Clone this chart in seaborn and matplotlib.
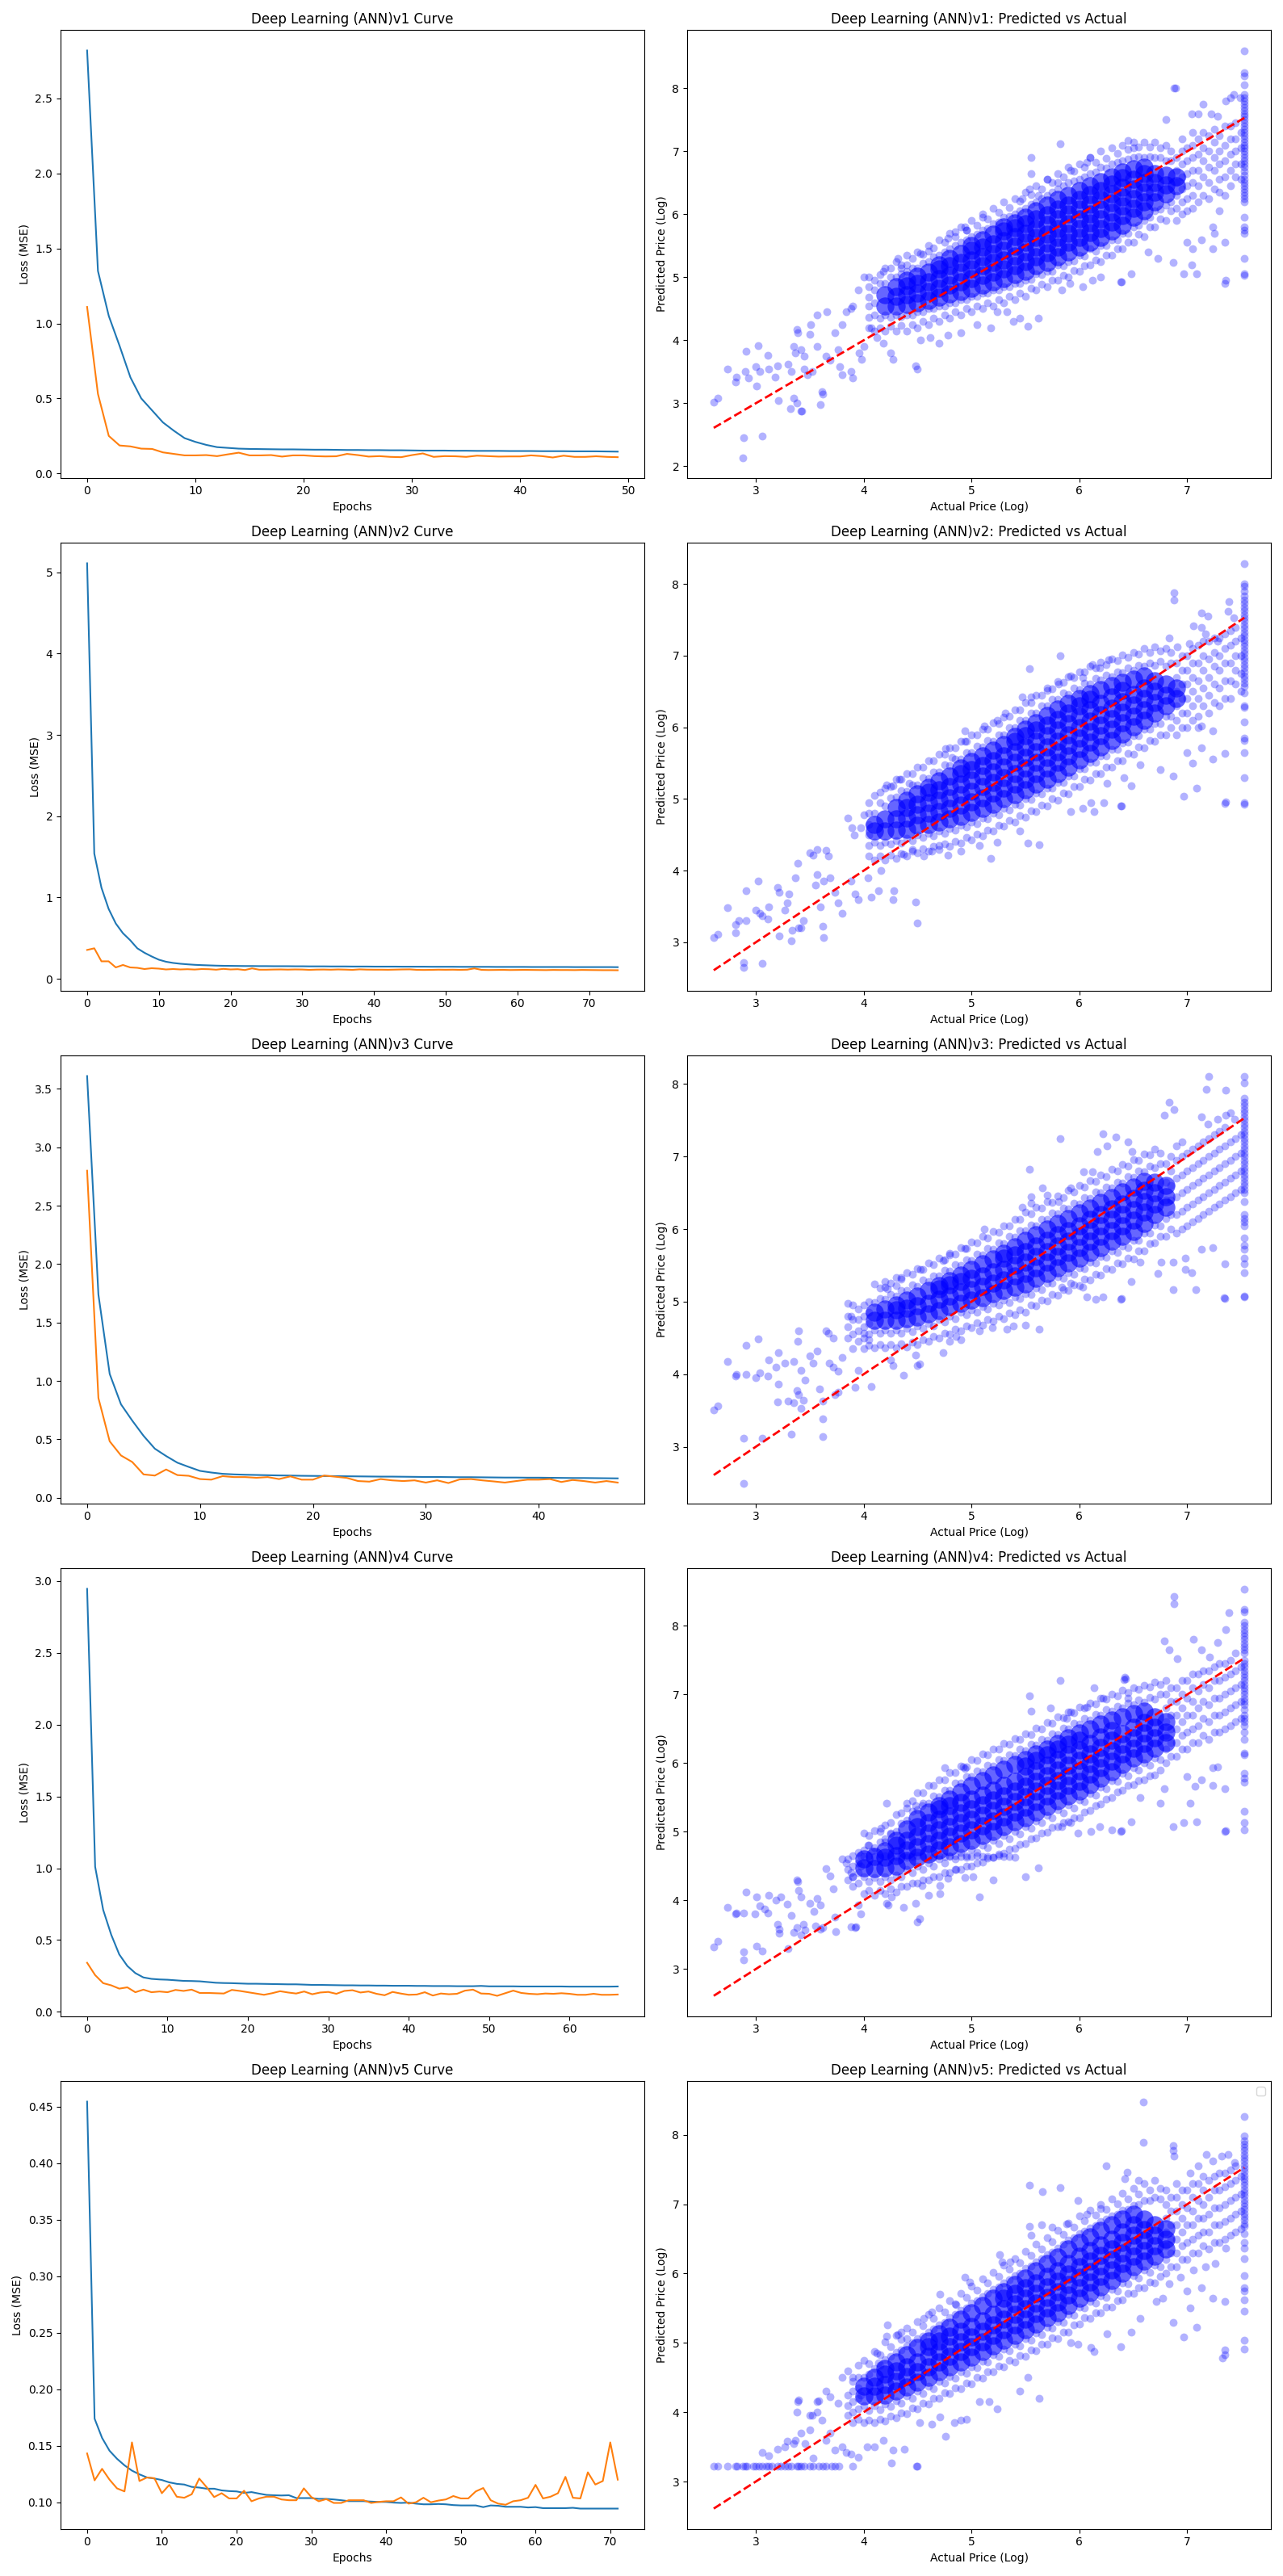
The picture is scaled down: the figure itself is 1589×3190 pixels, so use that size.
import numpy as np
import matplotlib
matplotlib.use("Agg")
import matplotlib.pyplot as plt
import seaborn as sns

# ---------------- loss curves (train = blue, validation = orange) ----------------
v1_train = [2.82, 1.35, 1.05, 0.85, 0.64, 0.50, 0.42, 0.34, 0.285, 0.235, 0.21, 0.19, 0.175, 0.17, 0.165, 0.163, 0.162, 0.161, 0.160, 0.160,
            0.159, 0.158, 0.158, 0.157, 0.156, 0.156, 0.155, 0.155, 0.154, 0.154, 0.153, 0.152, 0.152, 0.152, 0.151, 0.151, 0.150, 0.150, 0.150, 0.149,
            0.149, 0.149, 0.148, 0.148, 0.148, 0.147, 0.147, 0.147, 0.146, 0.145]
v1_val = [1.11, 0.53, 0.25, 0.186, 0.18, 0.165, 0.163, 0.14, 0.13, 0.12, 0.12, 0.122, 0.115, 0.127, 0.138, 0.12, 0.12, 0.122, 0.112, 0.12,
          0.12, 0.115, 0.113, 0.114, 0.13, 0.122, 0.112, 0.115, 0.11, 0.108, 0.122, 0.133, 0.11, 0.115, 0.114, 0.11, 0.118, 0.115, 0.112, 0.113,
          0.113, 0.12, 0.115, 0.106, 0.118, 0.11, 0.11, 0.114, 0.11, 0.108]

v2_train = [5.11, 1.54, 1.12, 0.86, 0.68, 0.56, 0.475, 0.375, 0.32, 0.275, 0.235, 0.21, 0.195, 0.185, 0.178, 0.172, 0.168, 0.165, 0.162, 0.16,
            0.159, 0.158, 0.157, 0.157, 0.156, 0.156, 0.155, 0.155, 0.155, 0.154, 0.154, 0.153, 0.153, 0.153, 0.152, 0.152, 0.152, 0.151, 0.151, 0.151,
            0.150, 0.150, 0.150, 0.150, 0.149, 0.149, 0.149, 0.149, 0.148, 0.148, 0.148, 0.148, 0.147, 0.147, 0.147, 0.147, 0.147, 0.146, 0.146, 0.146,
            0.146, 0.146, 0.145, 0.145, 0.145, 0.145, 0.145, 0.145, 0.144, 0.144, 0.144, 0.144, 0.144, 0.144, 0.143]
v2_val = [0.355, 0.375, 0.215, 0.215, 0.14, 0.17, 0.14, 0.135, 0.12, 0.13, 0.125, 0.115, 0.12, 0.115, 0.118, 0.114, 0.12, 0.118, 0.112, 0.122,
          0.115, 0.118, 0.108, 0.128, 0.112, 0.112, 0.114, 0.115, 0.113, 0.115, 0.114, 0.11, 0.113, 0.114, 0.112, 0.115, 0.113, 0.11, 0.116, 0.113,
          0.112, 0.112, 0.111, 0.113, 0.115, 0.116, 0.11, 0.109, 0.11, 0.112, 0.111, 0.112, 0.11, 0.112, 0.128, 0.11, 0.108, 0.109, 0.11, 0.108,
          0.109, 0.11, 0.109, 0.108, 0.107, 0.109, 0.108, 0.108, 0.107, 0.109, 0.108, 0.107, 0.106, 0.106, 0.105]

v3_train = [3.61, 1.74, 1.06, 0.80, 0.66, 0.53, 0.42, 0.357, 0.30, 0.264, 0.23, 0.216, 0.205, 0.20, 0.197, 0.195, 0.193, 0.191, 0.19, 0.188,
            0.187, 0.186, 0.185, 0.184, 0.183, 0.182, 0.181, 0.181, 0.18, 0.179, 0.178, 0.178, 0.177, 0.176, 0.176, 0.175, 0.174, 0.173, 0.173, 0.172,
            0.172, 0.171, 0.170, 0.169, 0.169, 0.168, 0.167, 0.166]
v3_val = [2.80, 0.854, 0.483, 0.362, 0.306, 0.20, 0.19, 0.242, 0.194, 0.188, 0.16, 0.155, 0.185, 0.177, 0.177, 0.171, 0.177, 0.16, 0.183, 0.155,
          0.155, 0.19, 0.18, 0.17, 0.143, 0.138, 0.16, 0.149, 0.143, 0.149, 0.13, 0.149, 0.126, 0.157, 0.16, 0.149, 0.14, 0.13, 0.143, 0.155,
          0.155, 0.16, 0.135, 0.152, 0.143, 0.13, 0.143, 0.13]

v4_train = [2.945, 1.01, 0.71, 0.537, 0.40, 0.32, 0.27, 0.24, 0.23, 0.226, 0.224, 0.22, 0.216, 0.215, 0.213, 0.208, 0.203, 0.201, 0.2, 0.198,
            0.196, 0.196, 0.195, 0.194, 0.193, 0.192, 0.192, 0.19, 0.188, 0.188, 0.187, 0.186, 0.185, 0.185, 0.184, 0.184, 0.183, 0.183, 0.182, 0.182,
            0.182, 0.181, 0.181, 0.18, 0.18, 0.18, 0.179, 0.179, 0.179, 0.181, 0.178, 0.178, 0.178, 0.178, 0.177, 0.177, 0.177, 0.177, 0.177, 0.177,
            0.176, 0.176, 0.176, 0.176, 0.176, 0.176, 0.177]
v4_val = [0.342, 0.256, 0.2, 0.185, 0.162, 0.171, 0.137, 0.155, 0.137, 0.142, 0.137, 0.153, 0.146, 0.155, 0.132, 0.132, 0.13, 0.128, 0.153, 0.146,
          0.137, 0.128, 0.119, 0.13, 0.144, 0.135, 0.128, 0.142, 0.123, 0.135, 0.139, 0.126, 0.146, 0.151, 0.135, 0.142, 0.126, 0.116, 0.139, 0.128,
          0.119, 0.121, 0.137, 0.114, 0.128, 0.123, 0.126, 0.148, 0.155, 0.128, 0.126, 0.112, 0.13, 0.148, 0.132, 0.126, 0.123, 0.128, 0.126, 0.13,
          0.126, 0.119, 0.119, 0.126, 0.119, 0.119, 0.121]

v5_train = [0.4546, 0.174, 0.157, 0.1456, 0.1385, 0.1327, 0.128, 0.1247, 0.122, 0.121, 0.1197, 0.1176, 0.1163, 0.1157, 0.1136, 0.113, 0.112, 0.112,
            0.1105, 0.1099, 0.1096, 0.1083, 0.109, 0.1077, 0.1065, 0.1062, 0.106, 0.1062, 0.1037, 0.1037, 0.1037, 0.103, 0.103, 0.1025, 0.1018, 0.101,
            0.101, 0.101, 0.1006, 0.1003, 0.1003, 0.0997, 0.0994, 0.0997, 0.0988, 0.0982, 0.0982, 0.0985, 0.0982, 0.0975, 0.0972, 0.0972, 0.0972,
            0.0957, 0.0972, 0.0969, 0.096, 0.096, 0.096, 0.0954, 0.0957, 0.0948, 0.0948, 0.0948, 0.0948, 0.0951, 0.0944, 0.0944, 0.0944, 0.0944,
            0.0944, 0.0944]
v5_val = [0.1432, 0.1194, 0.1296, 0.12, 0.1123, 0.1096, 0.153, 0.1188, 0.1219, 0.1213, 0.108, 0.1154, 0.1049, 0.104, 0.1071, 0.121, 0.1133, 0.1046,
          0.108, 0.1034, 0.1034, 0.1102, 0.1009, 0.1034, 0.1049, 0.1049, 0.1025, 0.1018, 0.1018, 0.1123, 0.1046, 0.1009, 0.1028, 0.0994, 0.0994,
          0.1018, 0.1018, 0.1018, 0.0994, 0.1003, 0.1009, 0.1009, 0.1043, 0.0988, 0.1, 0.104, 0.1, 0.1015, 0.1025, 0.1055, 0.1034, 0.1034, 0.1096,
          0.1126, 0.1018, 0.0988, 0.0978, 0.1009, 0.1018, 0.104, 0.1154, 0.1034, 0.1049, 0.108, 0.1225, 0.104, 0.1034, 0.1265, 0.1157, 0.1188,
          0.153, 0.12]

# ---------------- predicted vs actual (log price) ----------------
# *_core : saturated centre of the cloud, (actual, [predicted...]) columns
# *_halo / *_halo2 : lighter points around the core, same column format
# *_pts  : individual scattered points (actual, predicted)
# *_cap  : predictions of the samples whose actual value sits at the cap 7.53

v1_core = [
    (4.2, [4.55, 4.72]), (4.3, [4.55, 4.7, 4.85]), (4.4, [4.57, 4.72, 4.87, 4.95]), (4.5, [4.6, 4.75, 4.9, 5.02]),
    (4.6, [4.63, 4.78, 4.93, 5.08]), (4.7, [4.68, 4.83, 4.98, 5.13, 5.2]), (4.8, [4.73, 4.88, 5.03, 5.18, 5.3]),
    (4.9, [4.78, 4.93, 5.08, 5.23, 5.38]), (5.0, [4.83, 4.98, 5.13, 5.28, 5.43, 5.5]), (5.1, [4.88, 5.03, 5.18, 5.33, 5.48, 5.6]),
    (5.2, [4.93, 5.08, 5.23, 5.38, 5.53, 5.68]), (5.3, [4.98, 5.13, 5.28, 5.43, 5.58, 5.73, 5.8]),
    (5.4, [5.04, 5.19, 5.34, 5.49, 5.64, 5.79, 5.86]), (5.5, [5.1, 5.25, 5.4, 5.55, 5.7, 5.85, 5.95]),
    (5.6, [5.18, 5.33, 5.48, 5.63, 5.78, 5.93, 6.05]), (5.7, [5.24, 5.39, 5.54, 5.69, 5.84, 5.99, 6.14]),
    (5.8, [5.33, 5.48, 5.63, 5.78, 5.93, 6.08, 6.24]), (5.9, [5.4, 5.55, 5.7, 5.85, 6.0, 6.15, 6.3]),
    (6.0, [5.48, 5.63, 5.78, 5.93, 6.08, 6.23, 6.38]), (6.1, [5.56, 5.71, 5.86, 6.01, 6.16, 6.31, 6.45]),
    (6.2, [5.63, 5.78, 5.93, 6.08, 6.23, 6.38, 6.52]), (6.3, [5.73, 5.88, 6.03, 6.18, 6.33, 6.48, 6.6]),
    (6.4, [5.83, 5.98, 6.13, 6.28, 6.43, 6.58, 6.67]), (6.5, [5.95, 6.1, 6.25, 6.4, 6.55, 6.72]),
    (6.6, [6.05, 6.2, 6.35, 6.5, 6.65, 6.75]), (6.7, [6.2, 6.35, 6.5, 6.65]), (6.8, [6.32, 6.47, 6.62]),
    (6.9, [6.45, 6.6]),
]
v1_halo = [
    (4.05, [4.2, 4.36, 4.55, 4.68, 4.85, 5.0]), (4.15, [4.2, 4.35, 4.9, 5.04]), (4.25, [4.22, 4.37, 5.0, 5.15]),
    (4.35, [4.23, 4.38, 5.05, 5.2]), (4.45, [4.25, 4.4, 5.15, 5.3]), (4.55, [4.3, 4.45, 5.22, 5.37]),
    (4.65, [4.35, 4.5, 5.32, 5.47]), (4.75, [4.4, 4.55, 5.4, 5.55]), (4.85, [4.45, 4.6, 5.5, 5.65]),
    (4.95, [4.5, 4.65, 5.6, 5.75]), (5.05, [4.55, 4.7, 5.68, 5.83]), (5.15, [4.6, 4.75, 5.78, 5.93]),
    (5.25, [4.65, 4.8, 5.88, 6.03]), (5.35, [4.7, 4.85, 5.96, 6.11]), (5.45, [4.75, 4.9, 6.06, 6.21]),
    (5.55, [4.82, 4.97, 6.16, 6.31]), (5.65, [4.89, 5.04, 6.25, 6.4]), (5.75, [4.95, 5.1, 6.35, 6.5]),
    (5.85, [5.03, 5.18, 6.45, 6.6]), (5.95, [5.11, 5.26, 6.53, 6.68]), (6.05, [5.19, 5.34, 6.6, 6.75]),
    (6.15, [5.27, 5.42, 6.67, 6.82]), (6.25, [5.35, 5.5, 6.74, 6.89]), (6.35, [5.45, 5.6, 6.82, 6.97]),
    (6.45, [5.55, 5.7, 6.88, 7.03]), (6.55, [5.68, 5.83, 6.92, 7.07]), (6.65, [5.8, 5.95, 6.92, 7.07]),
    (6.75, [5.93, 6.08, 6.9, 7.05]), (6.85, [6.05, 6.2, 6.85, 7.0]),
    (6.95, [6.0, 6.2, 6.4, 6.6, 6.8, 7.0, 7.2]), (7.05, [6.1, 6.3, 6.5, 6.7, 6.9, 7.1, 7.3]),
    (7.15, [6.3, 6.6, 6.85, 7.05, 7.3]), (7.25, [6.4, 6.7, 6.9, 7.15, 7.35]),
    (7.35, [6.3, 6.6, 6.85, 7.1, 7.4]), (7.45, [6.6, 6.8, 7.0, 7.2, 7.45]),
]
v1_halo2 = [
    (4.1, [4.15, 4.4, 4.6, 4.8, 4.95]), (4.2, [4.15, 4.4, 4.9, 5.15]), (4.3, [4.15, 4.4, 5.0, 5.25]),
    (4.4, [4.15, 4.4, 5.1, 5.35]), (4.5, [4.2, 4.45, 5.15, 5.4]), (4.6, [4.25, 4.5, 5.25, 5.5]),
    (4.7, [4.3, 4.55, 5.35, 5.6]), (4.8, [4.35, 4.6, 5.45, 5.7]), (4.9, [4.4, 4.65, 5.55, 5.8]),
    (5.0, [4.45, 4.7, 5.65, 5.9]), (5.1, [4.5, 4.75, 5.75, 6.0]), (5.2, [4.55, 4.8, 5.85, 6.1]),
    (5.3, [4.6, 4.85, 5.95, 6.2]), (5.4, [4.65, 4.9, 6.0, 6.25]), (5.5, [4.7, 4.95, 6.1, 6.35]),
    (5.6, [4.8, 5.05, 6.2, 6.45]), (5.7, [4.85, 5.1, 6.3, 6.55]), (5.8, [4.95, 5.2, 6.4, 6.65]),
    (5.9, [5.0, 5.25, 6.5, 6.75]), (6.0, [5.1, 5.35, 6.55, 6.8]), (6.1, [5.2, 5.45, 6.65, 6.9]),
    (6.2, [5.25, 5.5, 6.75, 7.0]), (6.3, [5.35, 5.6, 6.8, 7.05]), (6.4, [5.45, 5.7, 6.85, 7.1]),
    (6.5, [5.55, 5.8, 6.9, 7.15]), (6.6, [5.65, 5.9, 6.9, 7.15]), (6.7, [5.8, 6.05, 6.9, 7.15]),
    (6.8, [5.9, 6.15, 6.85, 7.1]), (6.9, [5.9, 6.1, 6.3, 6.5, 6.7, 6.9]), (7.0, [6.05, 6.25, 6.45, 6.65, 6.85, 7.05]),
    (7.1, [6.2, 6.45, 6.7, 6.95, 7.2]), (7.2, [6.25, 6.5, 6.75, 7.0, 7.25]), (7.3, [6.35, 6.55, 6.8, 7.0, 7.25]),
    (7.4, [6.45, 6.7, 6.95, 7.2, 7.4]), (7.5, [6.55, 6.8, 7.05, 7.3]),
]
v1_pts = [
    (2.61, 3.02), (2.65, 3.08), (2.74, 3.55), (2.81, 3.34), (2.82, 3.41), (2.88, 2.14), (2.89, 2.46), (3.06, 2.48), (2.91, 3.82),
    (3.02, 3.91), (2.9, 3.5), (2.93, 3.4), (3.0, 3.58), (3.04, 3.5), (3.01, 3.28), (3.11, 3.76), (3.12, 3.55), (3.2, 3.6),
    (3.18, 3.42), (3.21, 3.05), (3.32, 2.92), (3.42, 2.88), (3.43, 2.88), (3.35, 3.08), (3.38, 3.0), (3.38, 4.17), (3.39, 4.12),
    (3.35, 3.9), (3.37, 3.8), (3.42, 3.85), (3.45, 3.75), (3.3, 3.62), (3.33, 3.5), (3.45, 3.55), (3.48, 3.45), (3.52, 3.5),
    (3.5, 4.1), (3.51, 4.25), (3.57, 4.4), (3.66, 4.45), (3.6, 2.98), (3.61, 3.18), (3.62, 3.15), (3.57, 3.9), (3.65, 3.75),
    (3.69, 3.68), (3.76, 3.85), (3.73, 4.12), (3.8, 4.25), (3.84, 4.45), (3.88, 4.5), (3.9, 4.55), (3.78, 3.58), (3.8, 3.45),
    (3.88, 3.5), (3.9, 3.4), (3.96, 3.8), (3.98, 3.7), (4.0, 3.9), (4.0, 5.0), (3.95, 4.8), (4.18, 5.1), (4.07, 4.2),
    (4.12, 4.05), (4.18, 3.95), (4.25, 3.8), (4.27, 3.7), (4.48, 3.6), (4.5, 3.55), (4.32, 5.3), (4.35, 5.15), (4.4, 5.2),
    (4.53, 5.38), (4.6, 5.42), (4.78, 5.62), (4.85, 5.72), (4.94, 5.8), (4.95, 5.75), (5.1, 5.95), (4.53, 4.0), (4.62, 4.05),
    (4.7, 3.95), (4.78, 4.08), (4.9, 4.12), (5.05, 4.25), (5.18, 4.2), (5.24, 4.45), (5.33, 4.45), (5.39, 4.3), (5.45, 4.35),
    (5.52, 4.22), (5.62, 4.35), (5.54, 6.4), (5.55, 6.65), (5.55, 6.9), (5.82, 7.12), (5.47, 6.25), (5.62, 6.3), (5.7, 6.55),
    (5.8, 6.5), (5.92, 6.7), (6.07, 6.83), (6.1, 6.9), (6.45, 7.17), (6.5, 7.06), (5.84, 4.8), (5.91, 4.9), (6.03, 4.85),
    (6.2, 5.0), (6.12, 4.95), (6.38, 4.93), (6.39, 4.93), (6.48, 5.06), (6.64, 5.4), (6.73, 5.3), (6.87, 5.24), (6.97, 5.05),
    (7.04, 5.2), (7.09, 5.06), (7.0, 5.55), (7.05, 5.45), (7.13, 5.6), (7.24, 5.45), (7.35, 5.55), (7.35, 4.9), (7.36, 4.95),
    (7.24, 5.8), (7.25, 5.7), (7.3, 6.05), (6.8, 7.5), (6.88, 8.0), (6.89, 8.01), (7.04, 7.6), (7.1, 7.6), (7.15, 7.75),
    (7.22, 7.6), (7.28, 7.55), (7.36, 7.8), (7.4, 7.85), (7.43, 7.9), (7.49, 7.85),
]
v1_cap = [5.03, 5.05, 5.3, 5.7, 5.75, 5.8, 5.95, 6.2, 6.25, 6.3, 6.35, 6.4, 6.45, 6.5, 6.55, 6.62, 6.68, 6.75, 6.8, 6.85, 6.9, 6.95,
          7.0, 7.05, 7.1, 7.15, 7.2, 7.25, 7.3, 7.35, 7.4, 7.45, 7.5, 7.55, 7.6, 7.65, 7.7, 7.75, 7.8, 7.85, 7.9, 8.05, 8.2, 8.25, 8.6]

v2_core = [
    (4.1, [4.55, 4.65]), (4.2, [4.55, 4.72]), (4.3, [4.56, 4.72, 4.88]), (4.4, [4.58, 4.73, 4.88, 4.98]),
    (4.5, [4.63, 4.78, 4.93, 5.07]), (4.6, [4.65, 4.8, 4.95, 5.1, 5.16]), (4.7, [4.68, 4.83, 4.98, 5.13, 5.25]),
    (4.8, [4.72, 4.87, 5.02, 5.17, 5.32]), (4.9, [4.76, 4.91, 5.06, 5.21, 5.36, 5.43]),
    (5.0, [4.81, 4.96, 5.11, 5.26, 5.41, 5.52]), (5.1, [4.87, 5.02, 5.17, 5.32, 5.47, 5.6]),
    (5.2, [4.93, 5.08, 5.23, 5.38, 5.53, 5.68]), (5.3, [5.0, 5.15, 5.3, 5.45, 5.6, 5.76]),
    (5.4, [5.06, 5.21, 5.36, 5.51, 5.66, 5.81, 5.87]), (5.5, [5.13, 5.28, 5.43, 5.58, 5.73, 5.88, 5.97]),
    (5.6, [5.21, 5.36, 5.51, 5.66, 5.81, 5.96, 6.07]), (5.7, [5.28, 5.43, 5.58, 5.73, 5.88, 6.03, 6.17]),
    (5.8, [5.36, 5.51, 5.66, 5.81, 5.96, 6.11, 6.26]), (5.9, [5.45, 5.6, 5.75, 5.9, 6.05, 6.2, 6.33]),
    (6.0, [5.55, 5.7, 5.85, 6.0, 6.15, 6.3, 6.4]), (6.1, [5.64, 5.79, 5.94, 6.09, 6.24, 6.39, 6.47]),
    (6.2, [5.73, 5.88, 6.03, 6.18, 6.33, 6.53]), (6.3, [5.82, 5.97, 6.12, 6.27, 6.42, 6.58]),
    (6.4, [5.91, 6.06, 6.21, 6.36, 6.51, 6.63]), (6.5, [6.01, 6.16, 6.31, 6.46, 6.67]),
    (6.6, [6.1, 6.25, 6.4, 6.55, 6.72]), (6.7, [6.2, 6.35, 6.5, 6.65]), (6.8, [6.3, 6.45, 6.6]), (6.9, [6.4, 6.55]),
]
v2_halo = [
    (4.05, [4.2, 4.35, 4.5, 4.65, 4.8, 4.95]), (4.15, [4.2, 4.35, 4.95, 5.1]), (4.25, [4.22, 4.37, 5.02, 5.17]),
    (4.35, [4.24, 4.39, 5.12, 5.27]), (4.45, [4.27, 4.42, 5.2, 5.35]), (4.55, [4.31, 4.46, 5.3, 5.45]),
    (4.65, [4.34, 4.49, 5.38, 5.53]), (4.75, [4.37, 4.52, 5.48, 5.63]), (4.85, [4.41, 4.56, 5.56, 5.71]),
    (4.95, [4.46, 4.61, 5.65, 5.8]), (5.05, [4.51, 4.66, 5.74, 5.89]), (5.15, [4.57, 4.72, 5.82, 5.97]),
    (5.25, [4.63, 4.78, 5.9, 6.05]), (5.35, [4.7, 4.85, 6.0, 6.15]), (5.45, [4.77, 4.92, 6.1, 6.25]),
    (5.55, [4.84, 4.99, 6.2, 6.35]), (5.65, [4.92, 5.07, 6.3, 6.45]), (5.75, [5.0, 5.15, 6.39, 6.54]),
    (5.85, [5.08, 5.23, 6.48, 6.63]), (5.95, [5.17, 5.32, 6.55, 6.7]), (6.05, [5.27, 5.42, 6.62, 6.77]),
    (6.15, [5.36, 5.51, 6.68, 6.83]), (6.25, [5.45, 5.6, 6.73, 6.88]), (6.35, [5.54, 5.69, 6.78, 6.93]),
    (6.45, [5.64, 5.79, 6.83, 6.98]), (6.55, [5.73, 5.88, 6.87, 7.02]), (6.65, [5.82, 5.97, 6.9, 7.05]),
    (6.75, [5.9, 6.05, 6.92, 7.07]), (6.85, [6.0, 6.15, 6.9, 7.05]),
    (6.95, [6.0, 6.2, 6.4, 6.6, 6.8, 7.0]), (7.05, [6.1, 6.3, 6.5, 6.7, 6.9, 7.1]),
    (7.15, [6.3, 6.55, 6.8, 7.0, 7.2]), (7.25, [6.35, 6.6, 6.85, 7.05, 7.25]),
    (7.35, [6.4, 6.65, 6.9, 7.1, 7.3]), (7.45, [6.6, 6.8, 7.0, 7.2, 7.4]),
]
v2_halo2 = [
    (4.1, [4.15, 4.4, 4.8, 5.05]), (4.2, [4.15, 4.4, 4.9, 5.15]), (4.3, [4.17, 4.42, 5.03, 5.28]),
    (4.4, [4.2, 4.45, 5.11, 5.36]), (4.5, [4.25, 4.5, 5.2, 5.45]), (4.6, [4.27, 4.52, 5.29, 5.54]),
    (4.7, [4.3, 4.55, 5.38, 5.63]), (4.8, [4.34, 4.59, 5.47, 5.72]), (4.9, [4.38, 4.63, 5.56, 5.81]),
    (5.0, [4.43, 4.68, 5.65, 5.9]), (5.1, [4.49, 4.74, 5.73, 5.98]), (5.2, [4.55, 4.8, 5.81, 6.06]),
    (5.3, [4.62, 4.87, 5.89, 6.14]), (5.4, [4.68, 4.93, 6.0, 6.25]), (5.5, [4.75, 5.0, 6.1, 6.35]),
    (5.6, [4.83, 5.08, 6.2, 6.45]), (5.7, [4.9, 5.15, 6.3, 6.55]), (5.8, [4.98, 5.23, 6.39, 6.64]),
    (5.9, [5.07, 5.32, 6.46, 6.71]), (6.0, [5.17, 5.42, 6.53, 6.78]), (6.1, [5.26, 5.51, 6.6, 6.85]),
    (6.2, [5.35, 5.6, 6.66, 6.91]), (6.3, [5.44, 5.69, 6.71, 6.96]), (6.4, [5.53, 5.78, 6.76, 7.01]),
    (6.5, [5.63, 5.88, 6.8, 7.05]), (6.6, [5.72, 5.97, 6.85, 7.1]), (6.7, [5.8, 6.05, 6.87, 7.12]),
    (6.8, [5.9, 6.15, 6.85, 7.1]), (6.9, [5.9, 6.1, 6.3, 6.5, 6.7, 6.9]), (7.0, [6.0, 6.2, 6.4, 6.6, 6.8, 7.0]),
    (7.1, [6.15, 6.4, 6.65, 6.9, 7.15]), (7.2, [6.2, 6.45, 6.7, 6.95, 7.2]), (7.3, [6.3, 6.55, 6.8, 7.0, 7.25]),
    (7.4, [6.4, 6.65, 6.9, 7.15, 7.35]), (7.5, [6.5, 6.75, 7.0, 7.25]),
]
v2_pts = [
    (2.61, 3.07), (2.65, 3.11), (2.74, 3.48), (2.81, 3.25), (2.81, 3.13), (2.84, 3.3), (2.91, 3.3), (2.91, 3.72), (3.0, 3.45),
    (2.89, 2.72), (2.89, 2.65), (3.06, 2.71), (3.02, 3.85), (3.04, 3.4), (3.06, 3.37), (3.11, 3.33), (3.12, 3.5), (3.2, 3.77),
    (3.22, 3.7), (3.22, 3.09), (3.33, 3.02), (3.34, 3.17), (3.27, 3.45), (3.29, 3.55), (3.31, 3.68), (3.37, 3.9), (3.39, 4.1),
    (3.4, 3.2), (3.42, 3.2), (3.44, 3.3), (3.5, 4.25), (3.53, 4.22), (3.57, 4.3), (3.65, 4.28), (3.67, 4.2), (3.55, 3.8),
    (3.57, 3.95), (3.63, 3.85), (3.69, 3.9), (3.6, 3.5), (3.62, 3.23), (3.63, 3.07), (3.73, 3.7), (3.76, 3.55), (3.8, 3.4),
    (3.85, 4.73), (3.89, 4.6), (3.91, 4.5), (3.88, 3.86), (3.92, 3.68), (3.95, 3.6), (3.97, 4.6), (4.0, 4.78), (4.04, 3.9),
    (4.07, 3.63), (4.14, 3.72), (4.16, 4.0), (4.21, 5.2), (4.27, 5.18), (4.33, 5.27), (4.42, 5.22), (4.27, 3.6), (4.28, 3.72),
    (4.48, 3.56), (4.5, 3.27), (4.37, 4.23), (4.45, 4.3), (4.56, 4.2), (4.63, 4.27), (4.7, 4.35), (4.78, 4.22), (4.9, 4.27),
    (4.76, 5.7), (4.82, 5.58), (4.94, 5.8), (4.94, 5.95), (5.07, 4.35), (5.18, 4.17), (5.24, 4.4), (5.45, 4.55), (5.52, 4.38),
    (5.63, 4.36), (5.54, 6.82), (5.82, 7.0), (6.12, 6.88), (5.12, 6.02), (5.24, 6.1), (5.31, 6.2), (5.47, 6.43), (5.55, 6.43),
    (5.7, 6.52), (5.81, 6.6), (5.92, 6.72), (6.03, 6.7), (6.19, 6.83), (6.27, 6.94), (5.92, 4.82), (6.03, 4.87), (6.11, 4.95),
    (6.23, 4.95), (6.14, 4.82), (6.38, 4.9), (6.39, 4.9), (6.26, 5.22), (6.41, 5.3), (6.48, 5.18), (6.56, 5.48), (6.75, 5.41),
    (6.87, 5.32), (6.97, 5.04), (7.09, 5.15), (7.0, 5.65), (7.05, 5.5), (7.13, 5.72), (7.24, 5.56), (7.35, 5.64), (7.1, 6.0),
    (7.13, 6.02), (7.24, 5.95), (7.35, 4.94), (7.36, 4.96), (6.88, 7.88), (6.88, 7.78), (7.13, 7.6), (7.19, 7.55), (7.13, 7.4),
    (7.06, 7.42), (7.39, 7.76), (7.38, 7.62), (7.43, 7.53), (6.83, 7.25), (6.91, 7.12), (7.02, 7.17), (7.17, 7.3), (7.28, 7.2),
]
v2_cap = [4.93, 4.95, 5.3, 5.65, 5.82, 5.85, 6.08, 6.28, 6.3, 6.48, 6.57, 6.62, 6.67, 6.72, 6.78, 6.83, 6.88, 6.93, 6.98, 7.03, 7.08,
          7.13, 7.18, 7.23, 7.28, 7.33, 7.38, 7.43, 7.48, 7.53, 7.58, 7.63, 7.68, 7.73, 7.78, 7.83, 7.9, 7.97, 8.0, 8.29]

v3_core = [
    (4.1, [4.74, 4.86]), (4.2, [4.74, 4.9]), (4.3, [4.74, 4.89, 4.95]), (4.4, [4.76, 4.91, 5.02]),
    (4.5, [4.79, 4.94, 5.08]), (4.6, [4.83, 4.98, 5.15]), (4.7, [4.88, 5.03, 5.18, 5.22]),
    (4.8, [4.93, 5.08, 5.23, 5.29]), (4.9, [4.98, 5.13, 5.28, 5.37]), (5.0, [5.02, 5.17, 5.32, 5.44]),
    (5.1, [5.06, 5.21, 5.36, 5.52]), (5.2, [5.11, 5.26, 5.41, 5.59]), (5.3, [5.15, 5.3, 5.45, 5.6, 5.67]),
    (5.4, [5.2, 5.35, 5.5, 5.65, 5.76]), (5.5, [5.24, 5.39, 5.54, 5.69, 5.85]), (5.6, [5.32, 5.47, 5.62, 5.77, 5.92]),
    (5.7, [5.39, 5.54, 5.69, 5.84, 6.0]), (5.8, [5.47, 5.62, 5.77, 5.92, 6.08]), (5.9, [5.53, 5.68, 5.83, 5.98, 6.15]),
    (6.0, [5.6, 5.75, 5.9, 6.05, 6.22]), (6.1, [5.68, 5.83, 5.98, 6.13, 6.29]), (6.2, [5.75, 5.9, 6.05, 6.2, 6.37]),
    (6.3, [5.83, 5.98, 6.13, 6.28, 6.44]), (6.4, [5.9, 6.05, 6.2, 6.35, 6.51]), (6.5, [5.97, 6.12, 6.27, 6.42, 6.58]),
    (6.6, [6.08, 6.23, 6.38, 6.53, 6.66]), (6.7, [6.2, 6.35, 6.5, 6.65]), (6.8, [6.3, 6.45, 6.6]),
]
v3_halo = [
    (3.85, [4.5, 4.65, 4.8]), (3.95, [4.45, 4.6, 4.75, 4.9]), (4.05, [4.4, 4.55, 4.7, 4.85, 5.0]),
    (4.15, [4.41, 4.56, 5.04, 5.19]), (4.25, [4.41, 4.56, 5.1, 5.25]), (4.35, [4.42, 4.57, 5.16, 5.31]),
    (4.45, [4.44, 4.59, 5.23, 5.38]), (4.55, [4.48, 4.63, 5.3, 5.45]), (4.65, [4.52, 4.67, 5.36, 5.51]),
    (4.75, [4.57, 4.72, 5.43, 5.58]), (4.85, [4.62, 4.77, 5.51, 5.66]), (4.95, [4.67, 4.82, 5.58, 5.73]),
    (5.05, [4.71, 4.86, 5.66, 5.81]), (5.15, [4.75, 4.9, 5.73, 5.88]), (5.25, [4.8, 4.95, 5.81, 5.96]),
    (5.35, [4.84, 4.99, 5.9, 6.05]), (5.45, [4.89, 5.04, 5.98, 6.13]), (5.55, [4.95, 5.1, 6.06, 6.21]),
    (5.65, [5.02, 5.17, 6.14, 6.29]), (5.75, [5.1, 5.25, 6.22, 6.37]), (5.85, [5.17, 5.32, 6.29, 6.44]),
    (5.95, [5.23, 5.38, 6.36, 6.51]), (6.05, [5.31, 5.46, 6.43, 6.58]), (6.15, [5.38, 5.53, 6.51, 6.66]),
    (6.25, [5.46, 5.61, 6.58, 6.73]), (6.35, [5.53, 5.68, 6.65, 6.8]), (6.45, [5.6, 5.75, 6.72, 6.87]),
    (6.55, [5.7, 5.85, 6.8, 6.95]), (6.65, [5.8, 5.95, 6.87, 7.02]), (6.75, [5.9, 6.05, 6.9, 7.05]),
    (6.85, [6.0, 6.2, 6.4, 6.6, 6.8, 7.0]), (6.95, [6.0, 6.25, 6.5, 6.75, 7.0, 7.2]),
    (7.05, [6.1, 6.35, 6.6, 6.85, 7.1]), (7.15, [6.2, 6.45, 6.7, 6.95, 7.2]),
    (7.25, [6.3, 6.55, 6.8, 7.05, 7.3]), (7.35, [6.4, 6.65, 6.9, 7.15, 7.4]), (7.45, [6.5, 6.75, 7.0, 7.25]),
]
v3_halo2 = [
    (3.9, [4.35, 4.55, 4.75, 4.95]), (4.0, [4.35, 4.5, 4.65, 4.8, 4.95]), (4.1, [4.36, 4.61, 4.99, 5.24]),
    (4.2, [4.36, 4.61, 5.03, 5.28]), (4.3, [4.36, 4.61, 5.08, 5.33]), (4.4, [4.38, 4.63, 5.15, 5.4]),
    (4.5, [4.41, 4.66, 5.21, 5.46]), (4.6, [4.45, 4.7, 5.28, 5.53]), (4.7, [4.5, 4.75, 5.35, 5.6]),
    (4.8, [4.55, 4.8, 5.42, 5.67]), (4.9, [4.6, 4.85, 5.5, 5.75]), (5.0, [4.64, 4.89, 5.57, 5.82]),
    (5.1, [4.68, 4.93, 5.65, 5.9]), (5.2, [4.73, 4.98, 5.72, 5.97]), (5.3, [4.77, 5.02, 5.8, 6.05]),
    (5.4, [4.82, 5.07, 5.89, 6.14]), (5.5, [4.86, 5.11, 5.98, 6.23]), (5.6, [4.94, 5.19, 6.05, 6.3]),
    (5.7, [5.01, 5.26, 6.13, 6.38]), (5.8, [5.09, 5.34, 6.21, 6.46]), (5.9, [5.15, 5.4, 6.28, 6.53]),
    (6.0, [5.22, 5.47, 6.35, 6.6]), (6.1, [5.3, 5.55, 6.42, 6.67]), (6.2, [5.37, 5.62, 6.5, 6.75]),
    (6.3, [5.45, 5.7, 6.57, 6.82]), (6.4, [5.52, 5.77, 6.64, 6.89]), (6.5, [5.59, 5.84, 6.71, 6.96]),
    (6.6, [5.7, 5.95, 6.79, 7.04]), (6.7, [5.81, 6.06, 6.85, 7.1]), (6.8, [5.9, 6.15, 6.4, 6.65, 6.9]),
    (6.9, [5.95, 6.2, 6.45, 6.7, 6.95, 7.15]), (7.0, [6.05, 6.3, 6.55, 6.8, 7.05]), (7.1, [6.15, 6.4, 6.65, 6.9, 7.15]),
    (7.2, [6.25, 6.5, 6.75, 7.0, 7.25]), (7.3, [6.35, 6.6, 6.85, 7.1, 7.35]), (7.4, [6.45, 6.7, 6.95, 7.2]),
    (7.5, [6.55, 6.8, 7.05, 7.3]),
]
v3_pts = [
    (2.61, 3.51), (2.65, 3.56), (2.74, 4.17), (2.81, 3.98), (2.82, 4.0), (2.91, 4.0), (2.91, 4.4), (3.02, 4.49), (2.89, 3.12),
    (3.06, 3.12), (2.89, 2.5), (3.0, 3.95), (3.04, 4.02), (3.11, 3.98), (3.12, 4.2), (3.21, 4.3), (3.19, 4.1), (3.21, 3.86),
    (3.2, 3.62), (3.33, 3.17), (3.3, 3.63), (3.35, 3.61), (3.4, 4.6), (3.39, 4.45), (3.27, 4.15), (3.35, 4.18), (3.42, 4.05),
    (3.46, 3.92), (3.5, 4.25), (3.53, 4.15), (3.57, 4.32), (3.42, 3.53), (3.44, 3.64), (3.38, 3.78), (3.4, 3.72), (3.59, 3.8),
    (3.62, 3.63), (3.62, 3.38), (3.62, 3.14), (3.65, 4.6), (3.67, 4.57), (3.72, 4.5), (3.68, 4.15), (3.72, 4.1), (3.76, 4.04),
    (3.8, 4.23), (3.73, 3.72), (3.76, 3.75), (3.85, 4.98), (3.88, 4.8), (3.92, 3.82), (3.95, 4.05), (4.0, 4.57), (4.05, 4.48),
    (4.07, 3.83), (4.2, 5.2), (4.22, 5.18), (4.3, 5.22), (4.35, 5.33), (4.25, 4.2), (4.27, 4.12), (4.37, 3.99), (4.48, 4.26),
    (4.52, 4.14), (4.5, 4.12), (4.53, 5.45), (4.74, 4.3), (4.8, 4.45), (4.86, 4.52), (4.9, 4.48), (4.74, 5.57), (4.8, 5.65),
    (4.94, 5.73), (5.07, 4.6), (5.19, 4.64), (5.33, 4.62), (5.39, 4.66), (5.5, 4.68), (5.63, 4.62), (5.12, 6.0), (5.54, 6.82),
    (5.55, 6.45), (5.55, 6.36), (5.82, 7.25), (6.04, 6.79), (6.12, 6.79), (6.22, 7.32), (6.17, 7.07), (5.47, 6.3), (5.66, 6.57),
    (5.7, 6.47), (5.81, 6.38), (5.92, 6.57), (6.26, 7.15), (6.34, 7.27), (6.45, 7.2), (6.49, 7.07), (5.84, 5.2), (5.92, 5.25),
    (6.03, 5.2), (6.07, 5.07), (6.15, 5.03), (6.22, 5.07), (6.38, 5.03), (6.39, 5.04), (6.48, 5.28), (6.56, 5.55), (6.73, 5.39),
    (6.76, 5.55), (6.87, 5.17), (6.98, 5.45), (7.08, 5.17), (6.87, 5.55), (6.98, 5.6), (7.04, 5.4), (7.13, 5.72), (7.24, 5.75),
    (7.35, 5.52), (7.34, 5.05), (7.35, 5.04), (7.2, 8.1), (7.18, 7.93), (7.36, 7.92), (6.79, 7.57), (6.83, 7.75), (6.88, 7.65),
    (7.13, 7.55), (7.19, 7.45), (7.28, 7.52), (7.36, 7.57), (7.4, 7.6), (7.44, 7.52),
]
v3_cap = [5.07, 5.08, 5.4, 5.52, 5.6, 5.72, 5.78, 5.88, 6.05, 6.1, 6.15, 6.2, 6.38, 6.5, 6.55, 6.6, 6.65, 6.7, 6.75, 6.8, 6.85, 6.9,
          6.95, 7.0, 7.05, 7.1, 7.15, 7.2, 7.25, 7.3, 7.35, 7.4, 7.45, 7.5, 7.55, 7.6, 7.65, 7.7, 7.75, 7.8, 8.02, 8.11]

v4_core = [
    (4.0, [4.48, 4.6]), (4.1, [4.46, 4.64]), (4.2, [4.48, 4.63, 4.72]), (4.3, [4.5, 4.65, 4.8, 4.87]),
    (4.4, [4.58, 4.73, 4.88, 5.04]), (4.5, [4.63, 4.78, 4.93, 5.08, 5.19]), (4.6, [4.68, 4.83, 4.98, 5.13, 5.29]),
    (4.7, [4.73, 4.88, 5.03, 5.18, 5.33, 5.38]), (4.8, [4.78, 4.93, 5.08, 5.23, 5.38, 5.48]),
    (4.9, [4.83, 4.98, 5.13, 5.28, 5.43, 5.58]), (5.0, [4.88, 5.03, 5.18, 5.33, 5.48, 5.67]),
    (5.1, [4.94, 5.09, 5.24, 5.39, 5.54, 5.75]), (5.2, [5.01, 5.16, 5.31, 5.46, 5.61, 5.83]),
    (5.3, [5.07, 5.22, 5.37, 5.52, 5.67, 5.91]), (5.4, [5.14, 5.29, 5.44, 5.59, 5.74, 5.98]),
    (5.5, [5.21, 5.36, 5.51, 5.66, 5.81, 5.96, 6.05]), (5.6, [5.29, 5.44, 5.59, 5.74, 5.89, 6.04, 6.13]),
    (5.7, [5.37, 5.52, 5.67, 5.82, 5.97, 6.12, 6.21]), (5.8, [5.45, 5.6, 5.75, 5.9, 6.05, 6.2, 6.29]),
    (5.9, [5.52, 5.67, 5.82, 5.97, 6.12, 6.27, 6.37]), (6.0, [5.59, 5.74, 5.89, 6.04, 6.19, 6.34, 6.44]),
    (6.1, [5.69, 5.84, 5.99, 6.14, 6.29, 6.5]), (6.2, [5.78, 5.93, 6.08, 6.23, 6.38, 6.57]),
    (6.3, [5.88, 6.03, 6.18, 6.33, 6.48, 6.63]), (6.4, [5.98, 6.13, 6.28, 6.43, 6.68]),
    (6.5, [6.07, 6.22, 6.37, 6.52, 6.72]), (6.6, [6.14, 6.29, 6.44, 6.59, 6.76]), (6.7, [6.22, 6.37, 6.52, 6.67]),
    (6.8, [6.3, 6.45, 6.6]),
]
v4_halo = [
    (3.85, [4.3, 4.45, 4.6]), (3.95, [4.25, 4.4, 4.55, 4.7]), (4.05, [4.15, 4.28, 4.8, 4.95]),
    (4.15, [4.15, 4.28, 4.85, 5.0]), (4.25, [4.17, 4.3, 4.98, 5.13]), (4.35, [4.2, 4.35, 5.12, 5.27]),
    (4.45, [4.25, 4.4, 5.3, 5.45]), (4.55, [4.3, 4.45, 5.42, 5.57]), (4.65, [4.35, 4.5, 5.52, 5.67]),
    (4.75, [4.4, 4.55, 5.61, 5.76]), (4.85, [4.45, 4.6, 5.71, 5.86]), (4.95, [4.5, 4.65, 5.8, 5.95]),
    (5.05, [4.55, 4.7, 5.89, 6.04]), (5.15, [4.62, 4.77, 5.97, 6.12]), (5.25, [4.68, 4.83, 6.05, 6.2]),
    (5.35, [4.75, 4.9, 6.12, 6.27]), (5.45, [4.82, 4.97, 6.2, 6.35]), (5.55, [4.9, 5.05, 6.27, 6.42]),
    (5.65, [4.98, 5.13, 6.35, 6.5]), (5.75, [5.06, 5.21, 6.43, 6.58]), (5.85, [5.13, 5.28, 6.51, 6.66]),
    (5.95, [5.2, 5.35, 6.58, 6.73]), (6.05, [5.29, 5.44, 6.65, 6.8]), (6.15, [5.38, 5.53, 6.71, 6.86]),
    (6.25, [5.48, 5.63, 6.78, 6.93]), (6.35, [5.58, 5.73, 6.83, 6.98]), (6.45, [5.67, 5.82, 6.88, 7.03]),
    (6.55, [5.75, 5.9, 6.92, 7.07]), (6.65, [5.82, 5.97, 6.96, 7.11]), (6.75, [5.9, 6.05, 7.0, 7.15]),
    (6.85, [6.1, 6.3, 6.5, 6.7, 6.9, 7.1]), (6.95, [6.2, 6.4, 6.6, 6.8, 7.0, 7.2]),
    (7.05, [6.3, 6.5, 6.7, 6.9, 7.1, 7.3]), (7.15, [6.4, 6.65, 6.9, 7.15, 7.35]),
    (7.25, [6.45, 6.7, 6.95, 7.2, 7.4]), (7.35, [6.5, 6.75, 7.0, 7.25, 7.45]), (7.45, [6.6, 6.85, 7.1, 7.35, 7.6]),
]
v4_halo2 = [
    (3.9, [4.2, 4.35, 4.5, 4.65]), (4.0, [4.1, 4.35, 4.73, 4.98]), (4.1, [4.08, 4.33, 4.77, 5.02]),
    (4.2, [4.1, 4.35, 4.85, 5.1]), (4.3, [4.12, 4.37, 5.0, 5.25]), (4.4, [4.2, 4.45, 5.17, 5.42]),
    (4.5, [4.25, 4.5, 5.32, 5.57]), (4.6, [4.3, 4.55, 5.42, 5.67]), (4.7, [4.35, 4.6, 5.51, 5.76]),
    (4.8, [4.4, 4.65, 5.61, 5.86]), (4.9, [4.45, 4.7, 5.71, 5.96]), (5.0, [4.5, 4.75, 5.8, 6.05]),
    (5.1, [4.56, 4.81, 5.88, 6.13]), (5.2, [4.63, 4.88, 5.96, 6.21]), (5.3, [4.69, 4.94, 6.04, 6.29]),
    (5.4, [4.76, 5.01, 6.11, 6.36]), (5.5, [4.83, 5.08, 6.18, 6.43]), (5.6, [4.91, 5.16, 6.26, 6.51]),
    (5.7, [4.99, 5.24, 6.34, 6.59]), (5.8, [5.07, 5.32, 6.42, 6.67]), (5.9, [5.14, 5.39, 6.5, 6.75]),
    (6.0, [5.21, 5.46, 6.57, 6.82]), (6.1, [5.31, 5.56, 6.63, 6.88]), (6.2, [5.4, 5.65, 6.7, 6.95]),
    (6.3, [5.5, 5.75, 6.76, 7.01]), (6.4, [5.6, 5.85, 6.81, 7.06]), (6.5, [5.69, 5.94, 6.85, 7.1]),
    (6.6, [5.76, 6.01, 6.89, 7.14]), (6.7, [5.83, 6.08, 6.93, 7.18]), (6.8, [6.0, 6.2, 6.4, 6.6, 6.8, 7.0, 7.2]),
    (6.9, [6.1, 6.3, 6.5, 6.7, 6.9, 7.1]), (7.0, [6.2, 6.45, 6.7, 6.95, 7.2]), (7.1, [6.3, 6.55, 6.8, 7.05, 7.3]),
    (7.2, [6.35, 6.6, 6.85, 7.1, 7.35]), (7.3, [6.45, 6.7, 6.95, 7.2, 7.45]), (7.4, [6.55, 6.8, 7.05, 7.3, 7.5]),
    (7.5, [6.65, 6.9, 7.15, 7.4]),
]
v4_streak_x = [4.0, 4.05, 4.1, 4.15, 4.2, 4.25, 4.3, 4.35, 4.4, 4.45, 4.5, 4.55, 4.6, 4.65, 4.7, 4.75, 4.8, 4.85, 4.9, 4.95,
               5.0, 5.05, 5.1, 5.15, 5.2, 5.25, 5.3, 5.35, 5.4]
v4_streak_y = [4.64, 4.65, 4.64, 4.63, 4.65, 4.64, 4.64, 4.65, 4.63, 4.64, 4.65, 4.64, 4.64, 4.63, 4.65, 4.64, 4.64, 4.65, 4.64, 4.63,
               4.64, 4.65, 4.64, 4.64, 4.63, 4.65, 4.64, 4.64, 4.63]
v4_pts = [
    (2.61, 3.32), (2.65, 3.41), (2.74, 3.9), (2.81, 3.8), (2.82, 3.82), (2.89, 3.82), (2.91, 4.12), (2.99, 3.81), (2.89, 3.25),
    (2.89, 3.13), (3.01, 3.33), (3.06, 3.26), (3.01, 4.05), (3.04, 3.92), (3.08, 3.87), (3.11, 3.82), (3.12, 4.08), (3.2, 3.65),
    (3.22, 3.52), (3.22, 3.58), (3.3, 3.3), (3.19, 4.0), (3.23, 4.05), (3.29, 3.95), (3.33, 3.78), (3.38, 4.3), (3.39, 4.28),
    (3.4, 4.15), (3.42, 4.05), (3.35, 3.53), (3.38, 3.6), (3.42, 3.5), (3.44, 3.65), (3.46, 3.57), (3.5, 3.96), (3.54, 3.84),
    (3.57, 4.03), (3.6, 3.93), (3.55, 3.63), (3.6, 3.58), (3.62, 3.6), (3.65, 4.46), (3.69, 4.36), (3.72, 4.17), (3.73, 3.76),
    (3.74, 3.55), (3.8, 4.6), (3.84, 4.55), (3.88, 4.4), (3.9, 4.35), (3.97, 4.5), (3.97, 4.65), (3.88, 3.62), (3.92, 3.6),
    (3.93, 3.62), (3.95, 3.93), (3.97, 3.8), (4.04, 4.8), (4.08, 4.72), (4.21, 5.42), (4.16, 5.05), (4.2, 4.9), (4.25, 4.97),
    (4.21, 3.96), (4.23, 3.93), (4.26, 4.05), (4.37, 3.9), (4.48, 3.96), (4.5, 3.69), (4.52, 3.73), (4.54, 4.22), (4.6, 4.08),
    (4.4, 5.35), (4.48, 5.38), (4.54, 5.38), (4.71, 4.22), (4.71, 4.1), (4.78, 4.32), (4.86, 4.45), (4.94, 4.33), (5.01, 4.35),
    (5.07, 4.05), (4.75, 5.94), (4.92, 5.95), (4.94, 5.92), (5.2, 4.3), (5.5, 4.35), (5.62, 4.48), (5.54, 6.98), (5.55, 6.76),
    (5.82, 7.21), (5.73, 6.8), (5.88, 6.65), (5.92, 6.75), (6.07, 6.82), (6.14, 7.1), (6.22, 6.95), (6.43, 7.23), (6.45, 6.95),
    (5.84, 5.08), (5.92, 5.13), (5.99, 4.98), (6.11, 5.0), (6.19, 5.08), (6.3, 5.03), (6.38, 5.0), (6.39, 5.02), (6.48, 5.15),
    (6.56, 5.5), (6.75, 5.42), (6.79, 5.63), (6.87, 5.08), (6.97, 5.13), (7.03, 5.42), (7.09, 5.15), (7.0, 5.8), (7.07, 5.66),
    (7.13, 5.76), (7.24, 5.67), (7.35, 5.63), (7.35, 5.0), (7.36, 5.02), (7.24, 5.93), (7.28, 5.95), (6.88, 8.43), (6.88, 8.32),
    (6.79, 7.78), (6.83, 7.65), (6.91, 7.52), (7.06, 7.8), (7.13, 7.65), (7.21, 7.55), (7.28, 7.76), (7.39, 8.19), (7.36, 7.95),
    (6.41, 7.22), (6.42, 7.25),
]
v4_cap = [5.03, 5.13, 5.3, 5.72, 5.78, 5.85, 6.12, 6.15, 6.35, 6.45, 6.55, 6.6, 6.65, 6.7, 6.78, 6.85, 6.9, 6.95, 7.0, 7.05, 7.1, 7.15,
          7.2, 7.25, 7.3, 7.35, 7.4, 7.45, 7.5, 7.6, 7.65, 7.7, 7.75, 7.8, 7.85, 7.9, 7.95, 8.0, 8.05, 8.2, 8.24, 8.54]

v5_core = [
    (4.0, [4.23, 4.37]), (4.1, [4.23, 4.38, 4.5]), (4.2, [4.25, 4.4, 4.55, 4.63]), (4.3, [4.3, 4.45, 4.6, 4.73]),
    (4.4, [4.36, 4.51, 4.66, 4.83]), (4.5, [4.43, 4.58, 4.73, 4.93]), (4.6, [4.5, 4.65, 4.8, 4.95, 5.03]),
    (4.7, [4.58, 4.73, 4.88, 5.03, 5.13]), (4.8, [4.65, 4.8, 4.95, 5.1, 5.23]), (4.9, [4.72, 4.87, 5.02, 5.17, 5.34]),
    (5.0, [4.79, 4.94, 5.09, 5.24, 5.44]), (5.1, [4.87, 5.02, 5.17, 5.32, 5.54]), (5.2, [4.96, 5.11, 5.26, 5.41, 5.64]),
    (5.3, [5.04, 5.19, 5.34, 5.49, 5.64, 5.74]), (5.4, [5.11, 5.26, 5.41, 5.56, 5.71, 5.84]),
    (5.5, [5.19, 5.34, 5.49, 5.64, 5.79, 5.94]), (5.6, [5.27, 5.42, 5.57, 5.72, 5.87, 6.04]),
    (5.7, [5.36, 5.51, 5.66, 5.81, 5.96, 6.14]), (5.8, [5.44, 5.59, 5.74, 5.89, 6.04, 6.24]),
    (5.9, [5.54, 5.69, 5.84, 5.99, 6.14, 6.35]), (6.0, [5.65, 5.8, 5.95, 6.1, 6.25, 6.45]),
    (6.1, [5.73, 5.88, 6.03, 6.18, 6.33, 6.53]), (6.2, [5.81, 5.96, 6.11, 6.26, 6.41, 6.62]),
    (6.3, [5.9, 6.05, 6.2, 6.35, 6.5, 6.7]), (6.4, [6.0, 6.15, 6.3, 6.45, 6.6, 6.78]),
    (6.5, [6.1, 6.25, 6.4, 6.55, 6.7, 6.85]), (6.6, [6.18, 6.33, 6.48, 6.63, 6.78]), (6.7, [6.25, 6.4, 6.55, 6.7]),
    (6.8, [6.35, 6.5, 6.65]),
]
v5_halo = [
    (3.85, [3.95, 4.1, 4.25]), (3.95, [3.9, 4.05, 4.2, 4.35, 4.5]), (4.05, [3.88, 4.02, 4.55, 4.7]),
    (4.15, [3.9, 4.04, 4.68, 4.83]), (4.25, [3.94, 4.08, 4.8, 4.95]), (4.35, [3.99, 4.13, 4.9, 5.05]),
    (4.45, [4.06, 4.2, 5.0, 5.15]), (4.55, [4.13, 4.27, 5.1, 5.25]), (4.65, [4.2, 4.34, 5.2, 5.35]),
    (4.75, [4.28, 4.42, 5.3, 5.45]), (4.85, [4.35, 4.49, 5.41, 5.56]), (4.95, [4.42, 4.56, 5.51, 5.66]),
    (5.05, [4.5, 4.64, 5.61, 5.76]), (5.15, [4.58, 4.72, 5.71, 5.86]), (5.25, [4.67, 4.81, 5.81, 5.96]),
    (5.35, [4.75, 4.89, 5.91, 6.06]), (5.45, [4.82, 4.96, 6.01, 6.16]), (5.55, [4.9, 5.04, 6.11, 6.26]),
    (5.65, [4.98, 5.12, 6.21, 6.36]), (5.75, [5.07, 5.21, 6.31, 6.46]), (5.85, [5.16, 5.3, 6.42, 6.57]),
    (5.95, [5.26, 5.4, 6.52, 6.67]), (6.05, [5.36, 5.5, 6.61, 6.76]), (6.15, [5.44, 5.58, 6.69, 6.84]),
    (6.25, [5.52, 5.66, 6.78, 6.93]), (6.35, [5.61, 5.75, 6.86, 7.01]), (6.45, [5.71, 5.85, 6.93, 7.08]),
    (6.55, [5.8, 5.94, 7.0, 7.15]), (6.65, [5.88, 6.02, 7.05, 7.2]), (6.75, [5.96, 6.1, 7.08, 7.23]),
    (6.85, [6.1, 6.3, 6.5, 6.7, 6.9, 7.1]), (6.95, [6.2, 6.4, 6.6, 6.8, 7.0, 7.2]),
    (7.05, [6.3, 6.5, 6.7, 6.9, 7.1, 7.3]), (7.15, [6.4, 6.6, 6.8, 7.0, 7.2, 7.4]),
    (7.25, [6.45, 6.7, 6.95, 7.2, 7.4]), (7.35, [6.5, 6.75, 7.0, 7.25, 7.45]), (7.45, [6.6, 6.85, 7.1, 7.35, 7.55]),
]
v5_halo2 = [
    (3.9, [3.85, 4.0, 4.15, 4.3, 4.45]), (4.0, [3.85, 4.1, 4.5, 4.75]), (4.1, [3.85, 4.1, 4.63, 4.88]),
    (4.2, [3.87, 4.12, 4.76, 5.01]), (4.3, [3.92, 4.17, 4.86, 5.11]), (4.4, [3.98, 4.23, 4.96, 5.21]),
    (4.5, [4.05, 4.3, 5.06, 5.31]), (4.6, [4.12, 4.37, 5.16, 5.41]), (4.7, [4.2, 4.45, 5.26, 5.51]),
    (4.8, [4.27, 4.52, 5.36, 5.61]), (4.9, [4.34, 4.59, 5.47, 5.72]), (5.0, [4.41, 4.66, 5.57, 5.82]),
    (5.1, [4.49, 4.74, 5.67, 5.92]), (5.2, [4.58, 4.83, 5.77, 6.02]), (5.3, [4.66, 4.91, 5.87, 6.12]),
    (5.4, [4.73, 4.98, 5.97, 6.22]), (5.5, [4.81, 5.06, 6.07, 6.32]), (5.6, [4.89, 5.14, 6.17, 6.42]),
    (5.7, [4.98, 5.23, 6.27, 6.52]), (5.8, [5.06, 5.31, 6.37, 6.62]), (5.9, [5.16, 5.41, 6.48, 6.73]),
    (6.0, [5.27, 5.52, 6.58, 6.83]), (6.1, [5.35, 5.6, 6.66, 6.91]), (6.2, [5.43, 5.68, 6.75, 7.0]),
    (6.3, [5.52, 5.77, 6.83, 7.08]), (6.4, [5.62, 5.87, 6.91, 7.16]), (6.5, [5.72, 5.97, 6.98, 7.23]),
    (6.6, [5.8, 6.05, 7.05, 7.3]), (6.7, [5.87, 6.12, 7.1, 7.35]), (6.8, [6.0, 6.2, 6.4, 6.6, 6.8, 7.0, 7.2]),
    (6.9, [6.1, 6.3, 6.5, 6.7, 6.9, 7.1, 7.3]), (7.0, [6.2, 6.45, 6.7, 6.95, 7.2]), (7.1, [6.3, 6.55, 6.8, 7.05, 7.3]),
    (7.2, [6.35, 6.6, 6.85, 7.1, 7.35]), (7.3, [6.45, 6.7, 6.95, 7.2, 7.45]), (7.4, [6.55, 6.8, 7.05, 7.3, 7.5]),
    (7.5, [6.65, 6.9, 7.15, 7.4]),
]
v5_floor_x = [2.61, 2.65, 2.74, 2.81, 2.83, 2.88, 2.9, 2.92, 2.98, 3.0, 3.03, 3.06, 3.1, 3.12, 3.15, 3.2, 3.23, 3.27,
              3.3, 3.33, 3.38, 3.4, 3.42, 3.45, 3.5, 3.53, 3.58, 3.62, 3.65, 3.7, 3.73, 3.77, 3.9, 4.26, 4.49, 4.5]
v5_floor_y = [3.22, 3.22, 3.22, 3.22, 3.22, 3.22, 3.22, 3.22, 3.22, 3.22, 3.22, 3.22, 3.22, 3.22, 3.22, 3.22, 3.22, 3.22,
              3.22, 3.22, 3.22, 3.22, 3.22, 3.22, 3.22, 3.22, 3.22, 3.22, 3.22, 3.22, 3.22, 3.22, 3.22, 3.27, 3.22, 3.22]
v5_pts = [
    (3.06, 3.42), (3.12, 3.37), (3.2, 3.47), (3.27, 3.5), (3.29, 3.58), (3.35, 3.55), (3.37, 3.6), (3.38, 4.0), (3.39, 4.15),
    (3.4, 4.18), (3.42, 3.7), (3.46, 3.55), (3.5, 3.75), (3.53, 3.34), (3.5, 3.95), (3.52, 3.95), (3.57, 4.0), (3.61, 3.88),
    (3.57, 4.15), (3.58, 4.17), (3.65, 4.3), (3.69, 4.22), (3.76, 4.13), (3.8, 4.5), (3.65, 3.6), (3.69, 3.7), (3.73, 3.45),
    (3.8, 3.5), (3.84, 3.42), (3.88, 3.4), (3.85, 4.6), (3.9, 4.5), (3.95, 4.68), (3.97, 4.25), (3.95, 3.35), (4.03, 3.5),
    (4.1, 3.5), (4.12, 4.85), (4.14, 4.71), (4.22, 5.26), (4.21, 5.1), (4.18, 3.6), (4.27, 3.45), (4.38, 3.47), (4.32, 5.12),
    (4.35, 5.16), (4.4, 5.06), (4.52, 3.85), (4.63, 3.83), (4.71, 3.93), (4.76, 3.65), (4.84, 3.85), (4.9, 3.88), (4.95, 3.9),
    (4.56, 5.35), (4.63, 5.45), (4.71, 5.7), (4.86, 5.55), (4.94, 5.95), (4.98, 5.88), (5.07, 4.15), (5.16, 4.15), (5.24, 4.05),
    (5.45, 4.3), (5.52, 4.5), (5.63, 4.2), (5.54, 7.28), (5.66, 7.18), (5.82, 7.24), (5.26, 6.27), (5.28, 6.17), (5.36, 6.17),
    (5.54, 6.68), (5.55, 6.55), (5.65, 6.71), (5.75, 6.67), (5.88, 6.72), (5.99, 7.05), (6.07, 6.85), (6.2, 6.94), (6.25, 7.56),
    (6.42, 7.37), (6.44, 7.46), (6.55, 7.34), (6.59, 8.48), (6.59, 7.89), (6.87, 7.84), (6.88, 7.7), (6.87, 7.78), (7.03, 7.45),
    (7.1, 7.55), (7.18, 7.72), (7.24, 7.62), (7.32, 7.7), (7.38, 7.72), (7.44, 7.6), (5.92, 5.0), (5.99, 4.98), (6.11, 4.93),
    (6.14, 4.88), (6.26, 5.13), (6.38, 4.95), (6.48, 5.15), (6.56, 5.35), (6.71, 5.6), (6.77, 5.65), (6.87, 5.3), (6.97, 5.08),
    (7.03, 5.5), (7.09, 5.22), (7.0, 5.75), (7.13, 5.8), (7.24, 5.65), (7.35, 5.6), (7.35, 4.83), (7.35, 4.9), (7.33, 4.78),
    (6.83, 5.85), (6.94, 5.95), (7.06, 6.05), (7.17, 6.1), (7.26, 6.15), (7.36, 6.37),
]
v5_cap = [4.91, 5.04, 5.46, 5.62, 5.75, 5.8, 5.97, 6.22, 6.37, 6.45, 6.58, 6.68, 6.72, 6.77, 6.82, 6.87, 6.92, 6.97, 7.02, 7.07,
          7.12, 7.17, 7.22, 7.27, 7.32, 7.37, 7.42, 7.47, 7.52, 7.57, 7.62, 7.67, 7.72, 7.77, 7.82, 7.87, 7.92, 7.99, 8.27]

CAP_ACTUAL = 7.53
model_names = ["v1", "v2", "v3", "v4", "v5"]


def columns_to_xy(cols):
    xs, ys = [], []
    for x, yl in cols:
        xs.extend([x] * len(yl))
        ys.extend(yl)
    return xs, ys


panels = [
    dict(train=v1_train, val=v1_val, core=v1_core, halo=v1_halo + v1_halo2, pts=v1_pts, cap=v1_cap, extra=[]),
    dict(train=v2_train, val=v2_val, core=v2_core, halo=v2_halo + v2_halo2, pts=v2_pts, cap=v2_cap, extra=[]),
    dict(train=v3_train, val=v3_val, core=v3_core, halo=v3_halo + v3_halo2, pts=v3_pts, cap=v3_cap, extra=[]),
    dict(train=v4_train, val=v4_val, core=v4_core, halo=v4_halo + v4_halo2, pts=v4_pts, cap=v4_cap,
         extra=[(v4_streak_x, v4_streak_y)]),
    dict(train=v5_train, val=v5_val, core=v5_core, halo=v5_halo + v5_halo2, pts=v5_pts, cap=v5_cap,
         extra=[(v5_floor_x, v5_floor_y)]),
]

fig, axes = plt.subplots(5, 2, figsize=(15.89, 31.9), dpi=100)

for i, (name, p) in enumerate(zip(model_names, panels)):
    # ---- loss curve ----
    ax = axes[i, 0]
    sns.lineplot(x=np.arange(len(p["train"])), y=p["train"], ax=ax, color="#1f77b4", linewidth=1.5)
    sns.lineplot(x=np.arange(len(p["val"])), y=p["val"], ax=ax, color="#ff7f0e", linewidth=1.5)
    ax.set_title(f"Deep Learning (ANN){name} Curve")
    ax.set_xlabel("Epochs")
    ax.set_ylabel("Loss (MSE)")

    # ---- predicted vs actual ----
    ax = axes[i, 1]
    cx, cy = columns_to_xy(p["core"])
    hx, hy = columns_to_xy(p["halo"])
    px = [a for a, b in p["pts"]]
    py = [b for a, b in p["pts"]]
    kx = [CAP_ACTUAL] * len(p["cap"])
    ky = list(p["cap"])
    ex, ey = [], []
    for xs, ys in p["extra"]:
        ex += list(xs)
        ey += list(ys)

    sns.scatterplot(x=cx, y=cy, ax=ax, color="blue", alpha=0.6, s=260, linewidth=0)
    light_x = hx + px + kx + ex
    light_y = hy + py + ky + ey
    sns.scatterplot(x=light_x, y=light_y, ax=ax, color="blue", alpha=0.3, s=50, linewidth=0)

    all_actual = cx + light_x
    lo, hi = min(all_actual), max(all_actual)
    ax.plot([lo, hi], [lo, hi], "r--", lw=2)
    ax.set_title(f"Deep Learning (ANN){name}: Predicted vs Actual")
    ax.set_xlabel("Actual Price (Log)")
    ax.set_ylabel("Predicted Price (Log)")
    if i == 4:
        ax.legend(handles=[], loc="upper right")

fig.tight_layout()
fig.savefig("out.png", dpi=100)
